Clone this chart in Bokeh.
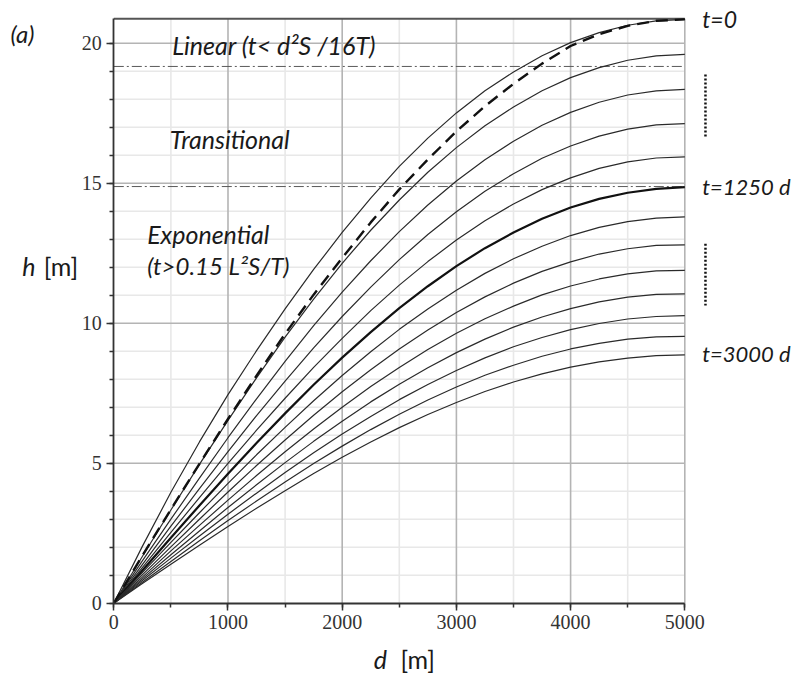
from bokeh.plotting import figure
from bokeh.models import Range1d, SingleIntervalTicker, Label
from bokeh.embed import file_html
from bokeh.resources import INLINE

# distance from drain [m]
d = [0, 250, 500, 750, 1000, 1250, 1500, 1750, 2000, 2250, 2500,
     2750, 3000, 3250, 3500, 3750, 4000, 4250, 4500, 4750, 5000]

# water table height h [m] for t = 0, 250, ..., 3000 d
h_0    = [0, 2.03, 3.96, 5.76, 7.45, 9.02, 10.51, 11.92, 13.24, 14.47, 15.60,
          16.61, 17.51, 18.30, 18.97, 19.55, 20.02, 20.38, 20.64, 20.80, 20.85]
h_250  = [0, 1.67, 3.33, 4.96, 6.53, 8.05, 9.50, 10.86, 12.14, 13.32, 14.40,
          15.39, 16.27, 17.05, 17.72, 18.30, 18.77, 19.13, 19.39, 19.55, 19.60]
h_500  = [0, 1.51, 3.00, 4.47, 5.91, 7.30, 8.64, 9.91, 11.11, 12.23, 13.27,
          14.22, 15.08, 15.84, 16.50, 17.07, 17.53, 17.89, 18.15, 18.30, 18.35]
h_750  = [0, 1.38, 2.75, 4.09, 5.41, 6.70, 7.93, 9.12, 10.24, 11.29, 12.27,
          13.17, 13.98, 14.71, 15.34, 15.89, 16.33, 16.68, 16.93, 17.08, 17.13]
h_1000 = [0, 1.27, 2.53, 3.77, 4.99, 6.18, 7.32, 8.42, 9.46, 10.45, 11.36,
          12.20, 12.97, 13.66, 14.26, 14.77, 15.19, 15.53, 15.76, 15.90, 15.94]
h_1250 = [0, 1.17, 2.34, 3.49, 4.62, 5.72, 6.78, 7.80, 8.77, 9.68, 10.54,
          11.32, 12.04, 12.68, 13.24, 13.73, 14.13, 14.44, 14.66, 14.80, 14.86]
h_1500 = [0, 1.09, 2.17, 3.23, 4.28, 5.30, 6.28, 7.23, 8.13, 8.98, 9.78,
          10.51, 11.18, 11.78, 12.30, 12.75, 13.13, 13.42, 13.63, 13.75, 13.80]
h_1750 = [0, 1.01, 2.01, 3.00, 3.97, 4.92, 5.83, 6.71, 7.55, 8.34, 9.08,
          9.76, 10.38, 10.94, 11.43, 11.85, 12.19, 12.47, 12.66, 12.78, 12.80]
h_2000 = [0, 0.93, 1.87, 2.78, 3.68, 4.56, 5.41, 6.22, 7.00, 7.74, 8.42,
          9.06, 9.64, 10.16, 10.61, 11.01, 11.33, 11.58, 11.76, 11.87, 11.89]
h_2250 = [0, 0.87, 1.73, 2.58, 3.42, 4.23, 5.02, 5.78, 6.50, 7.19, 7.82,
          8.41, 8.95, 9.43, 9.86, 10.22, 10.52, 10.76, 10.93, 11.03, 11.05]
h_2500 = [0, 0.81, 1.61, 2.40, 3.18, 3.93, 4.67, 5.37, 6.04, 6.67, 7.27,
          7.81, 8.31, 8.76, 9.16, 9.49, 9.77, 9.99, 10.15, 10.24, 10.27]
h_2750 = [0, 0.75, 1.49, 2.23, 2.95, 3.65, 4.33, 4.99, 5.61, 6.20, 6.75,
          7.26, 7.72, 8.14, 8.50, 8.82, 9.08, 9.28, 9.43, 9.51, 9.53]
h_3000 = [0, 0.70, 1.39, 2.07, 2.74, 3.39, 4.02, 4.63, 5.21, 5.76, 6.27,
          6.74, 7.17, 7.56, 7.90, 8.19, 8.43, 8.62, 8.75, 8.84, 8.87]
# dashed curve (linear-regime approximation)
h_dash = [0, 1.70, 3.35, 4.98, 6.58, 8.13, 9.62, 11.02, 12.33, 13.60, 14.78,
          15.85, 16.85, 17.75, 18.55, 19.27, 19.90, 20.32, 20.62, 20.80, 20.85]

# regime limits
h_lin_limit = 19.17
h_exp_limit = 14.88

# axis extents and tick values
x_max, h_max = 5000, 20.87
x_major = [1000, 2000, 3000, 4000, 5000]
x_minor = [500, 1500, 2500, 3500, 4500]
y_major = [5, 10, 15, 20]
y_minor = [1, 2, 3, 4, 6, 7, 8, 9, 11, 12, 13, 14, 16, 17, 18, 19]

p = figure(width=801, height=675,
           x_range=Range1d(-992.1, 6021.9), y_range=Range1d(-2.582, 21.525),
           output_backend="svg", toolbar_location=None,
           min_border_left=0, min_border_right=0, min_border_top=0, min_border_bottom=0)
p.background_fill_color = "white"
p.border_fill_color = "white"
p.outline_line_color = None
p.xgrid.visible = False
p.ygrid.visible = False

# grid (drawn only inside the plotting box)
p.segment(x0=x_minor, y0=[0] * len(x_minor), x1=x_minor, y1=[h_max] * len(x_minor),
          line_color="#e8e8e8", line_width=1.6)
p.segment(x0=[0] * len(y_minor), y0=y_minor, x1=[x_max] * len(y_minor), y1=y_minor,
          line_color="#e8e8e8", line_width=1.6)
p.segment(x0=x_major, y0=[0] * len(x_major), x1=x_major, y1=[h_max] * len(x_major),
          line_color="#b4b4b4", line_width=1.6)
p.segment(x0=[0] * len(y_major), y0=y_major, x1=[x_max] * len(y_major), y1=y_major,
          line_color="#b4b4b4", line_width=1.6)
# top border
p.line([0, x_max], [h_max, h_max], line_color="#555555", line_width=2)

# axes
p.xaxis.ticker = SingleIntervalTicker(interval=1000, num_minor_ticks=2)
p.yaxis.ticker = SingleIntervalTicker(interval=5, num_minor_ticks=5)
p.xaxis.fixed_location = 0
p.yaxis.fixed_location = 0
p.xaxis.bounds = (0, x_max)
p.yaxis.bounds = (0, h_max)
for ax in (p.xaxis, p.yaxis):
    ax.axis_line_color = "#333333"
    ax.axis_line_width = 1.8
    ax.major_tick_line_color = "#333333"
    ax.minor_tick_line_color = "#333333"
    ax.major_tick_line_width = 1.5
    ax.minor_tick_line_width = 1.5
    ax.major_tick_in = 0
    ax.major_tick_out = 7
    ax.minor_tick_in = 0
    ax.minor_tick_out = 4
    ax.major_label_text_font = "Liberation Serif"
    ax.major_label_text_font_size = "20px"
    ax.major_label_text_color = "#333333"
p.xaxis.major_label_standoff = 5
p.yaxis.major_label_standoff = 5

# regime boundary lines
for loc in (h_lin_limit, h_exp_limit):
    p.line([0, x_max], [loc, loc], line_color="#5a5a5a", line_width=1, line_dash="10 3 2 3")

curves = [h_0, h_250, h_500, h_750, h_1000, h_1250, h_1500, h_1750,
          h_2000, h_2250, h_2500, h_2750, h_3000]
for h in curves:
    if h is h_1250:
        p.line(d, h, line_color="#111111", line_width=2.2)
    else:
        p.line(d, h, line_color="#2a2a2a", line_width=1.2)

p.line(d, h_dash, line_color="#111111", line_width=2.4, line_dash="12 7")

FONT = "Lato"


def lab(x, y, text, size="25px", style="italic"):
    p.add_layout(Label(x=x, y=y, text=text, text_font=FONT, text_font_style=style,
                       text_font_size=size, text_baseline="middle", text_align="left",
                       text_color="#1a1a1a"))


lab(-905, 20.35, "(a)", size="24px")
lab(511, 19.92, "Linear (t< d\u00b2S /16T)")
lab(490, 16.59, "Transitional")
lab(292, 13.19, "Exponential")
lab(292, 12.06, "(t>0.15 L\u00b2S/T)", size="24px")
lab(-802, 12.06, "h")
lab(-613, 12.06, "[m]", style="normal")
lab(2277, -1.99, "d")
lab(2510, -1.99, "[m]", style="normal")
lab(5152, 20.87, "t=0", size="23px")
lab(5152, 14.89, "t=1250 d", size="22px")
lab(5152, 8.91, "t=3000 d", size="22px")

# dotted vertical markers on the right
for y0, y1 in ((18.88, 16.64), (12.84, 10.63)):
    p.line([5181, 5181], [y0, y1], line_color="#111111", line_width=2.5, line_dash="2 2")

open("out.html", "w").write(file_html(p, INLINE))
